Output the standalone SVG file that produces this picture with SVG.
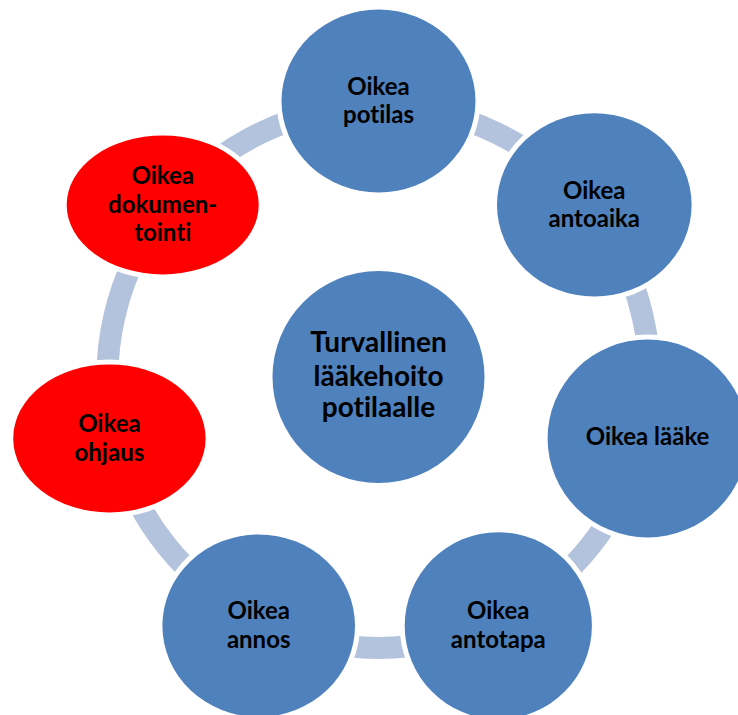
<svg xmlns="http://www.w3.org/2000/svg" width="738" height="715" viewBox="0 0 738 715">
<style>
.conn{fill:none;stroke:#B3C2DD;stroke-width:22;stroke-linecap:butt}
.halo{fill:#FFFFFF}
.blue{fill:#4F81BD}
.red{fill:#FF0000}
text{font-family:Lato,"Liberation Sans",sans-serif;font-weight:700;fill:#000000;text-anchor:middle;font-variant-ligatures:none;font-feature-settings:"liga" 0,"clig" 0,"dlig" 0}
.lbl{font-size:24px}
.big{font-size:28px}
</style>
<rect x="0" y="0" width="738" height="715" fill="#FFFFFF"/>
<g id="connectors">
<path class="conn" d="M 378.5 106 A 271 271 0 0 1 590.38 208.03"/>
<path class="conn" d="M 590.38 208.03 A 271 271 0 0 1 642.71 437.3"/>
<path class="conn" d="M 642.71 437.3 A 271 271 0 0 1 496.08 621.16"/>
<path class="conn" d="M 496.08 621.16 A 271 271 0 0 1 260.92 621.16"/>
<path class="conn" d="M 260.92 621.16 A 271 271 0 0 1 114.29 437.3"/>
<path class="conn" d="M 114.29 437.3 A 271 271 0 0 1 166.62 208.03"/>
<path class="conn" d="M 166.62 208.03 A 271 271 0 0 1 378.5 106"/>
</g>
<g id="center">
<ellipse class="blue" cx="378.5" cy="377" rx="106" ry="106"/>
<text class="big" x="378.5" y="352">Turvallinen</text>
<text class="big" x="378.5" y="385.5">lääkehoito</text>
<text class="big" x="378.5" y="417">potilaalle</text>
</g>
<g id="potilas">
<ellipse class="halo" cx="378.5" cy="101" rx="102" ry="96.5"/>
<ellipse class="blue" cx="378.5" cy="101" rx="97" ry="91.5"/>
<text class="lbl" x="378.5" y="94.5">Oikea</text>
<text class="lbl" x="378.5" y="122.5">potilas</text>
</g>
<g id="antoaika">
<ellipse class="halo" cx="594.3" cy="204.9" rx="102.3" ry="96.7"/>
<ellipse class="blue" cx="594.3" cy="204.9" rx="97.3" ry="91.7"/>
<text class="lbl" x="594.3" y="198.5">Oikea</text>
<text class="lbl" x="594.3" y="227">antoaika</text>
</g>
<g id="laake">
<ellipse class="halo" cx="647.6" cy="438.4" rx="105" ry="104"/>
<ellipse class="blue" cx="647.6" cy="438.4" rx="100" ry="99"/>
<text class="lbl" x="647.6" y="445">Oikea lääke</text>
</g>
<g id="antotapa">
<ellipse class="halo" cx="498.3" cy="625.7" rx="98.6" ry="98.5"/>
<ellipse class="blue" cx="498.3" cy="625.7" rx="93.6" ry="93.5"/>
<text class="lbl" x="498.3" y="619">Oikea</text>
<text class="lbl" x="498.3" y="648">antotapa</text>
</g>
<g id="annos">
<ellipse class="halo" cx="258.7" cy="625.7" rx="101.3" ry="96.3"/>
<ellipse class="blue" cx="258.7" cy="625.7" rx="96.3" ry="91.3"/>
<text class="lbl" x="258.7" y="619">Oikea</text>
<text class="lbl" x="258.7" y="648">annos</text>
</g>
<g id="ohjaus">
<ellipse class="halo" cx="109.4" cy="438.4" rx="101.2" ry="79"/>
<ellipse class="red" cx="109.4" cy="438.4" rx="96.2" ry="74"/>
<text class="lbl" x="109.4" y="432">Oikea</text>
<text class="lbl" x="109.4" y="460.5">ohjaus</text>
</g>
<g id="dokumentointi">
<ellipse class="halo" cx="162.7" cy="204.9" rx="101" ry="74.5"/>
<ellipse class="red" cx="162.7" cy="204.9" rx="96" ry="69.5"/>
<text class="lbl" x="162.7" y="183.5">Oikea</text>
<text class="lbl" x="162.7" y="212.5">dokumen-</text>
<text class="lbl" x="162.7" y="241">tointi</text>
</g>
</svg>
